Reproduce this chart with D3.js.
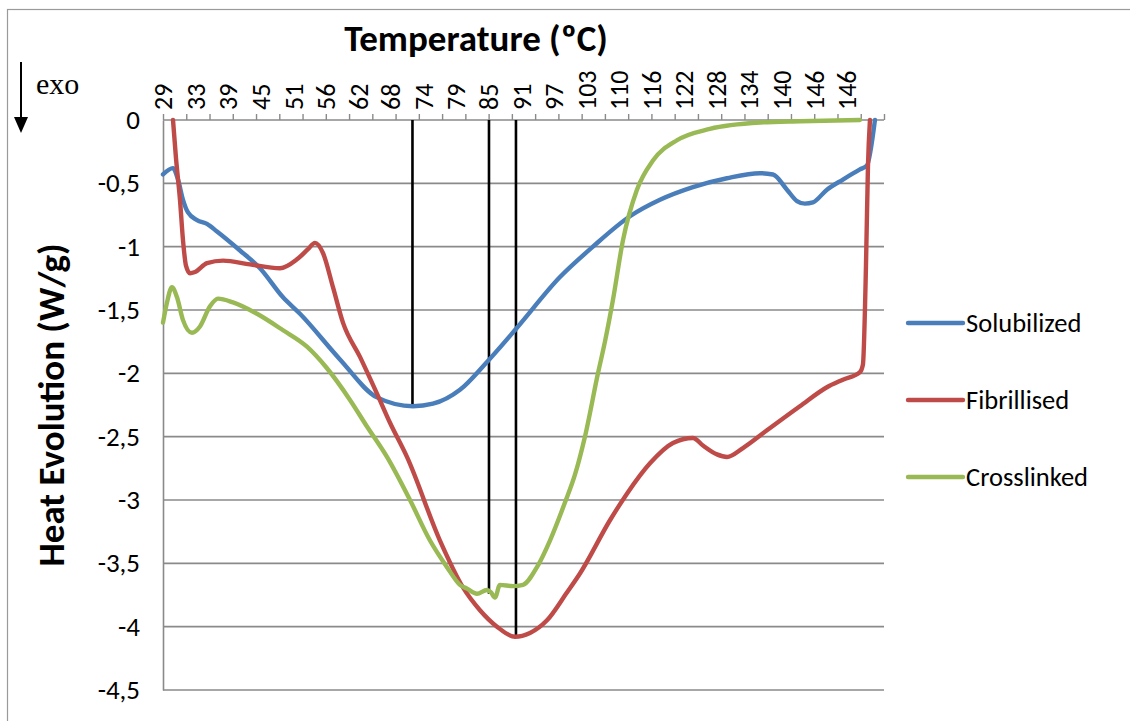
<!DOCTYPE html>
<html>
<head>
<meta charset="utf-8">
<script src="https://cdn.jsdelivr.net/npm/d3@7"></script>
<style>
  html, body { margin: 0; padding: 0; background: #fff; }
  svg { display: block; }
  text { font-family: Calibri, Carlito, Lato, "Open Sans", sans-serif; }
</style>
</head>
<body>
<svg id="chart" width="1130" height="721"></svg>
<script>
// Temperature labels shown along the top category axis (every 7th sample)
const tempLabels = ["29","33","39","45","51","56","62","68","74","79","85","91",
                    "97","103","110","116","122","128","134","140","146","146"];
const sampleCount = 155;   // number of category slots on the temperature axis
const tickEvery = 5;       // tick mark interval (samples)
const labelEvery = 7;      // label interval (samples)

const yTicks = [0, -0.5, -1, -1.5, -2, -2.5, -3, -3.5, -4, -4.5];

// DSC traces: [sample index, heat flow W/g]
const solubilized = [
  [0,-0.43],[2.15,-0.38],[3.22,-0.47],[4.30,-0.63],[5.37,-0.73],[7.31,-0.79],
  [9.46,-0.82],[11.61,-0.88],[16.55,-1.03],[20.85,-1.17],[25.80,-1.40],
  [29.45,-1.53],[38.05,-1.89],[46.00,-2.19],[53.74,-2.26],[58.04,-2.24],
  [63.84,-2.13],[69.65,-1.91],[76.10,-1.64],[85.34,-1.24],[92.43,-1.00],
  [100.39,-0.76],[106.84,-0.63],[113.93,-0.53],[121.24,-0.46],[128.33,-0.42],
  [131.13,-0.43],[134.14,-0.55],[136.29,-0.64],[138.0,-0.66],[139.72,-0.65],
  [142.73,-0.55],[146.17,-0.47],[149.83,-0.39],[151.33,-0.36],[153.05,0]
];

const fibrillised = [
  [2.15,0],[2.79,-0.30],[3.65,-0.63],[4.30,-0.95],[4.94,-1.15],[5.80,-1.21],
  [6.88,-1.20],[9.46,-1.13],[12.90,-1.11],[18.70,-1.14],[25.15,-1.17],
  [28.80,-1.10],[31.17,-1.02],[32.67,-0.97],[34.39,-1.05],[36.54,-1.32],
  [38.69,-1.60],[42.35,-1.87],[46.00,-2.16],[48.80,-2.39],[52.45,-2.66],
  [59.54,-3.32],[64.49,-3.69],[68.14,-3.87],[71.80,-4.00],[75.67,-4.08],
  [78.89,-4.05],[82.55,-3.95],[86.84,-3.73],[89.64,-3.58],[96.09,-3.16],
  [99.74,-2.95],[104.69,-2.71],[109.63,-2.55],[113.93,-2.51],[116.08,-2.57],
  [119.09,-2.64],[121.24,-2.66],[124.68,-2.59],[129.84,-2.45],[136.92,-2.26],
  [142.73,-2.11],[146.17,-2.05],[149.83,-1.99],[150.47,-1.93],[151.12,-1.16],
  [151.55,-0.37],[151.98,0]
];

const crosslinked = [
  [0,-1.60],[0.86,-1.44],[1.93,-1.32],[3.01,-1.40],[4.30,-1.58],[6.23,-1.68],
  [7.95,-1.63],[10.10,-1.47],[11.82,-1.41],[15.05,-1.44],[20.21,-1.53],
  [25.80,-1.66],[30.95,-1.79],[35.25,-1.96],[40.20,-2.21],[43.85,-2.42],
  [48.15,-2.66],[53.10,-3.00],[57.40,-3.32],[61.05,-3.53],[63.84,-3.67],
  [65.35,-3.70],[67.50,-3.74],[69.65,-3.71],[70.51,-3.73],[71.37,-3.77],
  [72.44,-3.67],[75.24,-3.68],[77.39,-3.67],[80.40,-3.53],[83.19,-3.32],
  [86.41,-3.02],[88.56,-2.80],[90.71,-2.50],[93.51,-2.00],[95.01,-1.75],
  [96.73,-1.42],[98.88,-0.95],[101.89,-0.55],[105.33,-0.32],[110.49,-0.16],
  [117.58,-0.07],[128.33,-0.02],[136.92,-0.01],[149.83,0]
];

const seriesNames = ["Solubilized", "Fibrillised", "Crosslinked"];
const seriesColors = ["#4A7EBB", "#BE4B48", "#98B954"];
const seriesData = [solubilized, fibrillised, crosslinked];

// Peak temperature markers: [sample index, heat flow at the peak]
const peakMarkers = [[53.63,-2.26],[70.08,-3.74],[75.88,-4.08]];

const svg = d3.select("#chart");
const plot = { left: 163, right: 884, top: 120, bottom: 690 };

const x = d3.scaleLinear().domain([0, sampleCount]).range([plot.left, plot.right]);
const y = d3.scaleLinear().domain([0, -4.5]).range([plot.top, plot.bottom]);

// Outer chart frame
svg.append("rect")
  .attr("x", 7.5).attr("y", 9.5).attr("width", 1140).attr("height", 730)
  .attr("fill", "none").attr("stroke", "#9a9a9a").attr("stroke-width", 1.2);

// Horizontal gridlines
svg.append("g")
  .selectAll("line").data(yTicks.slice(1)).join("line")
  .attr("x1", plot.left).attr("x2", plot.right)
  .attr("y1", d => y(d)).attr("y2", d => y(d))
  .attr("stroke", "#8a8a8a").attr("stroke-width", 1.6);

// Y axis
const yAxis = d3.axisLeft(y).tickValues(yTicks).tickSize(0).tickPadding(23)
  .tickFormat(d => String(d).replace(".", ","));
const yg = svg.append("g").attr("transform", `translate(${plot.left},0)`).call(yAxis);
yg.select(".domain").attr("stroke", "#8a8a8a").attr("stroke-width", 1.6);
yg.selectAll("text").attr("font-size", 27).attr("fill", "#000");

// Top temperature axis: ticks and labels at different intervals
const tickIdx = d3.range(0, sampleCount + 1, tickEvery);
const xTickAxis = d3.axisTop(x).tickValues(tickIdx).tickSize(6).tickFormat("");
const xg = svg.append("g").attr("transform", `translate(0,${plot.top})`).call(xTickAxis);
xg.select(".domain").attr("stroke", "#8a8a8a").attr("stroke-width", 1.6)
  .attr("d", `M${plot.left},0H${plot.right}`);
xg.selectAll(".tick line").attr("stroke", "#8a8a8a").attr("stroke-width", 1.4);

const labelIdx = tempLabels.map((_, i) => i * labelEvery);
svg.append("g")
  .selectAll("text").data(labelIdx).join("text")
  .attr("transform", d => `translate(${x(d)},${plot.top - 10}) rotate(-90)`)
  .attr("text-anchor", "start")
  .attr("dy", "0.36em")
  .attr("font-size", 26)
  .text((d, i) => tempLabels[i]);

// Axis titles
svg.append("text")
  .attr("x", 476).attr("y", 51)
  .attr("text-anchor", "middle").attr("font-size", 37).attr("font-weight", "bold")
  .text("Temperature (ºC)");

svg.append("text")
  .attr("transform", `translate(64,${(plot.top + plot.bottom) / 2}) rotate(-90)`)
  .attr("text-anchor", "middle").attr("font-size", 37).attr("font-weight", "bold")
  .text("Heat Evolution (W/g)");

// Exothermic direction indicator
svg.append("line")
  .attr("x1", 21).attr("x2", 21).attr("y1", 62).attr("y2", 120)
  .attr("stroke", "#000").attr("stroke-width", 2);
svg.append("path").attr("d", "M14,117L28,117L21,133Z").attr("fill", "#000");
svg.append("text")
  .attr("x", 36).attr("y", 94)
  .style("font-family", "'Liberation Serif', 'DejaVu Serif', serif")
  .attr("font-size", 30)
  .text("exo");

// Peak markers (vertical lines from the baseline down to each peak)
svg.append("g")
  .selectAll("line").data(peakMarkers).join("line")
  .attr("x1", d => x(d[0])).attr("x2", d => x(d[0]))
  .attr("y1", y(0)).attr("y2", d => y(d[1]))
  .attr("stroke", "#000").attr("stroke-width", 2.6);

// Series lines
const line = d3.line()
  .x(d => x(d[0])).y(d => y(d[1]))
  .curve(d3.curveMonotoneX);

svg.append("g")
  .selectAll("path").data(seriesData).join("path")
  .attr("d", line)
  .attr("fill", "none")
  .attr("stroke", (d, i) => seriesColors[i])
  .attr("stroke-width", 4.4)
  .attr("stroke-linejoin", "round")
  .attr("stroke-linecap", "round");

// Legend
const legend = svg.append("g").selectAll("g").data(seriesNames).join("g")
  .attr("transform", (d, i) => `translate(908,${323 + i * 77})`);
legend.append("line")
  .attr("x1", 0).attr("x2", 55).attr("y1", 0).attr("y2", 0)
  .attr("stroke", (d, i) => seriesColors[i]).attr("stroke-width", 4.4)
  .attr("stroke-linecap", "round");
legend.append("text")
  .attr("x", 58).attr("y", 0).attr("dy", "0.35em")
  .attr("font-size", 26.5)
  .text(d => d);
</script>
</body>
</html>
